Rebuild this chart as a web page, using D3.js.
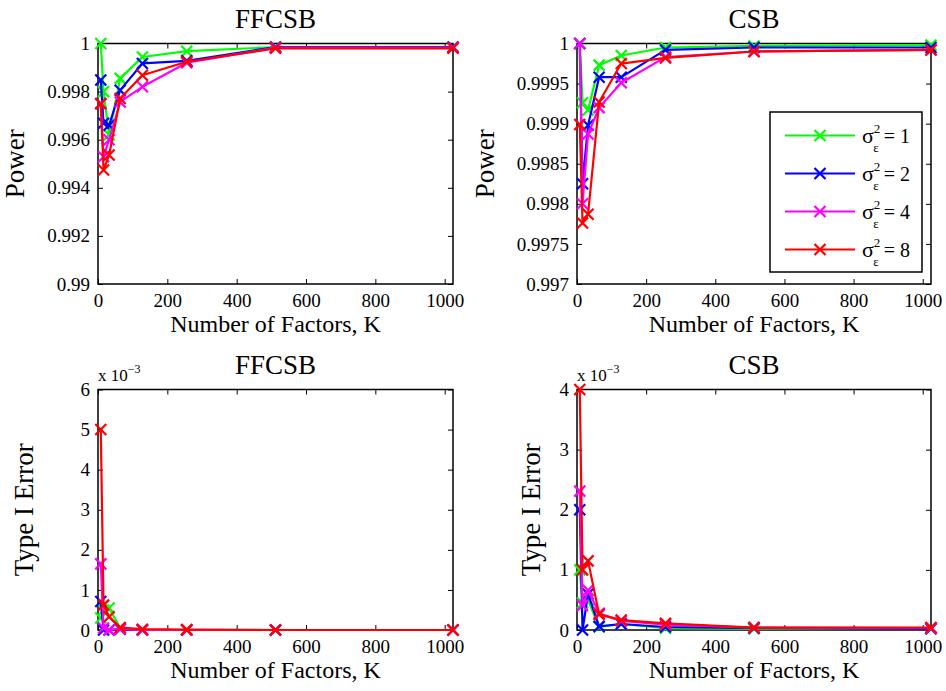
<!DOCTYPE html>
<html><head><meta charset="utf-8">
<script src="https://cdn.jsdelivr.net/npm/d3@7"></script>
<style>
body{margin:0;background:#fff;}
svg text{font-family:"Liberation Serif","Times New Roman",serif !important;fill:#000;}
</style></head>
<body><svg id="c" width="946" height="691"></svg>
<script>
// ---- data ----
const K = [8, 16, 32, 64, 128, 256, 512, 1024];
const seriesNames = ["1", "2", "4", "8"];
const seriesColors = ["#00ff00", "#0000ff", "#ff00ff", "#ff0000"];

// FFCSB power
const ffPow1 = [1.0000, 0.9980, 0.9962, 0.99855, 0.99944, 0.99968, 0.99985, 0.99985];
const ffPow2 = [0.99848, 0.99668, 0.9966, 0.99806, 0.99917, 0.99928, 0.99985, 0.99985];
const ffPow4 = [0.9975, 0.99529, 0.9960, 0.99757, 0.9982, 0.9992, 0.99983, 0.99983];
const ffPow8 = [0.9975, 0.99474, 0.99536, 0.99771, 0.99868, 0.99924, 0.9998, 0.9998];
// CSB power
const csPow1 = [1.0000, 0.99926, 0.99917, 0.99973, 0.99985, 0.99995, 0.99997, 0.99998];
const csPow2 = [1.0000, 0.99825, 0.99898, 0.99958, 0.99958, 0.99992, 0.99995, 0.99995];
const csPow4 = [1.0000, 0.9980, 0.99887, 0.9992, 0.99951, 0.99983, 0.9999, 0.99992];
const csPow8 = [0.99899, 0.99776, 0.99787, 0.99927, 0.99975, 0.99982, 0.9999, 0.99992];
// FFCSB type I error (x 1e-3)
const ffErr1 = [0.30, 0.50, 0.55, 0.05, 0.0, 0.0, 0.0, 0.0];
const ffErr2 = [0.71, 0.0, 0.0, 0.02, 0.0, 0.0, 0.0, 0.0];
const ffErr4 = [1.65, 0.05, 0.0, 0.03, 0.0, 0.0, 0.0, 0.0];
const ffErr8 = [5.0, 0.62, 0.33, 0.06, 0.02, 0.01, 0.0, 0.0];
// CSB type I error (x 1e-3)
const csErr1 = [1.0, 0.45, 0.50, 0.05, 0.10, 0.03, 0.02, 0.02];
const csErr2 = [2.0, 0.0, 0.60, 0.06, 0.10, 0.05, 0.03, 0.02];
const csErr4 = [2.31, 0.41, 0.66, 0.28, 0.15, 0.09, 0.04, 0.03];
const csErr8 = [4.0, 1.0, 1.15, 0.26, 0.165, 0.11, 0.04, 0.04];

const xTicks = [0, 200, 400, 600, 800, 1000];
const ffPowTicks = [0.99, 0.992, 0.994, 0.996, 0.998, 1];
const csPowTicks = [0.997, 0.9975, 0.998, 0.9985, 0.999, 0.9995, 1];
const ffErrTicks = [0, 1, 2, 3, 4, 5, 6];
const csErrTicks = [0, 1, 2, 3, 4];

const FONT = '"Liberation Serif", "Times New Roman", serif';
const svg = d3.select("#c");

function cross(cx, cy, m) {
  return `M${cx - m},${cy - m}L${cx + m},${cy + m}M${cx - m},${cy + m}L${cx + m},${cy - m}`;
}

function panel(o) {
  const g = svg.append("g");
  const x = d3.scaleLinear().domain([0, 1024]).range([o.x0, o.x1]);
  const y = d3.scaleLinear().domain(o.ydom).range([o.y1, o.y0]);
  const tl = 5;
  const ax = g.append("g").attr("transform", `translate(0,${o.y1})`)
    .call(d3.axisBottom(x).tickValues(xTicks).tickSizeInner(-tl).tickSizeOuter(0).tickPadding(10).tickFormat(d3.format("d")));
  const axt = g.append("g").attr("transform", `translate(0,${o.y0})`)
    .call(d3.axisTop(x).tickValues(xTicks).tickSizeInner(-tl).tickSizeOuter(0).tickFormat(""));
  const ay = g.append("g").attr("transform", `translate(${o.x0},0)`)
    .call(d3.axisLeft(y).tickValues(o.yticks).tickSizeInner(-tl).tickSizeOuter(0).tickPadding(8).tickFormat(o.yfmt));
  const ayr = g.append("g").attr("transform", `translate(${o.x1},0)`)
    .call(d3.axisRight(y).tickValues(o.yticks).tickSizeInner(-tl).tickSizeOuter(0).tickFormat(""));
  [ax, axt, ay, ayr].forEach(a => {
    a.attr("font-family", FONT);
    a.select(".domain").remove();
    a.selectAll("line").attr("stroke", "#000").attr("stroke-width", 1);
    a.selectAll("text").attr("font-size", 19).attr("fill", "#000");
  });
  g.append("rect").attr("x", o.x0).attr("y", o.y0).attr("width", o.x1 - o.x0).attr("height", o.y1 - o.y0)
    .attr("fill", "none").attr("stroke", "#000").attr("stroke-width", 1.5);
  const line = d3.line().x((d, i) => x(K[i])).y(d => y(d));
  o.series.forEach((s, si) => {
    g.append("path").datum(s).attr("d", line).attr("fill", "none")
      .attr("stroke", seriesColors[si]).attr("stroke-width", 2.2).attr("stroke-linejoin", "round");
    g.selectAll(null).data(s).enter().append("path")
      .attr("d", (d, i) => cross(x(K[i]), y(d), 5.5))
      .attr("stroke", seriesColors[si]).attr("stroke-width", 2.2);
  });
  g.append("text").attr("x", (o.x0 + o.x1) / 2).attr("y", o.y0 - 16).attr("text-anchor", "middle")
    .attr("font-size", 27).text(o.title);
  g.append("text").attr("x", (o.x0 + o.x1) / 2).attr("y", o.y1 + 48).attr("text-anchor", "middle")
    .attr("font-size", 24).text("Number of Factors, K");
  g.append("text").attr("transform", `translate(${o.ylx},${(o.y0 + o.y1) / 2}) rotate(-90)`)
    .attr("text-anchor", "middle").attr("font-size", 27).text(o.ylabel);
  if (o.expo) {
    const t = g.append("text").attr("x", o.x0).attr("y", o.y0 - 9).attr("font-size", 17);
    t.append("tspan").text("x 10");
    t.append("tspan").attr("dy", -8).attr("font-size", 12).text("\u22123");
  }
}

const L0 = 98, L1 = 453, R0 = 577, R1 = 931;
const T0 = 43.5, T1 = 284, B0 = 389.5, B1 = 630;

panel({x0: L0, x1: L1, y0: T0, y1: T1, ydom: [0.99, 1], yticks: ffPowTicks,
  yfmt: d => d === 1 ? "1" : d3.format(".3f")(d).replace(/0+$/, ""),
  series: [ffPow1, ffPow2, ffPow4, ffPow8], title: "FFCSB", ylabel: "Power", ylx: 24});
panel({x0: R0, x1: R1, y0: T0, y1: T1, ydom: [0.997, 1], yticks: csPowTicks,
  yfmt: d => d === 1 ? "1" : d3.format(".4f")(d).replace(/0+$/, ""),
  series: [csPow1, csPow2, csPow4, csPow8], title: "CSB", ylabel: "Power", ylx: 494});
panel({x0: L0, x1: L1, y0: B0, y1: B1, ydom: [0, 6], yticks: ffErrTicks, yfmt: d3.format("d"),
  series: [ffErr1, ffErr2, ffErr4, ffErr8], title: "FFCSB", ylabel: "Type I Error", ylx: 33, expo: true});
panel({x0: R0, x1: R1, y0: B0, y1: B1, ydom: [0, 4], yticks: csErrTicks, yfmt: d3.format("d"),
  series: [csErr1, csErr2, csErr4, csErr8], title: "CSB", ylabel: "Type I Error", ylx: 540, expo: true});

// legend
const lg = svg.append("g");
const lx0 = 770, ly0 = 112, lx1 = 922, ly1 = 272;
lg.append("rect").attr("x", lx0).attr("y", ly0).attr("width", lx1 - lx0).attr("height", ly1 - ly0)
  .attr("fill", "#fff").attr("stroke", "#000").attr("stroke-width", 1.5);
seriesNames.forEach((n, i) => {
  const yy = 135.5 + i * 38;
  lg.append("line").attr("x1", 785).attr("x2", 855).attr("y1", yy).attr("y2", yy)
    .attr("stroke", seriesColors[i]).attr("stroke-width", 2.2);
  lg.append("path").attr("d", cross(820, yy, 5.5))
    .attr("stroke", seriesColors[i]).attr("stroke-width", 2.2);
  const t = lg.append("text").attr("x", 862).attr("y", yy + 7).attr("font-size", 22);
  t.append("tspan").text("\u03c3");
  t.append("tspan").attr("dy", -10).attr("font-size", 13).text("2");
  t.append("tspan").attr("dy", 19).attr("dx", -7).attr("font-size", 13).text("\u03b5");
  t.append("tspan").attr("dy", -9).attr("dx", 5).attr("font-size", 20).text("= " + n);
});

svg.selectAll("text, tspan").style("font-family", FONT);
</script></body></html>
